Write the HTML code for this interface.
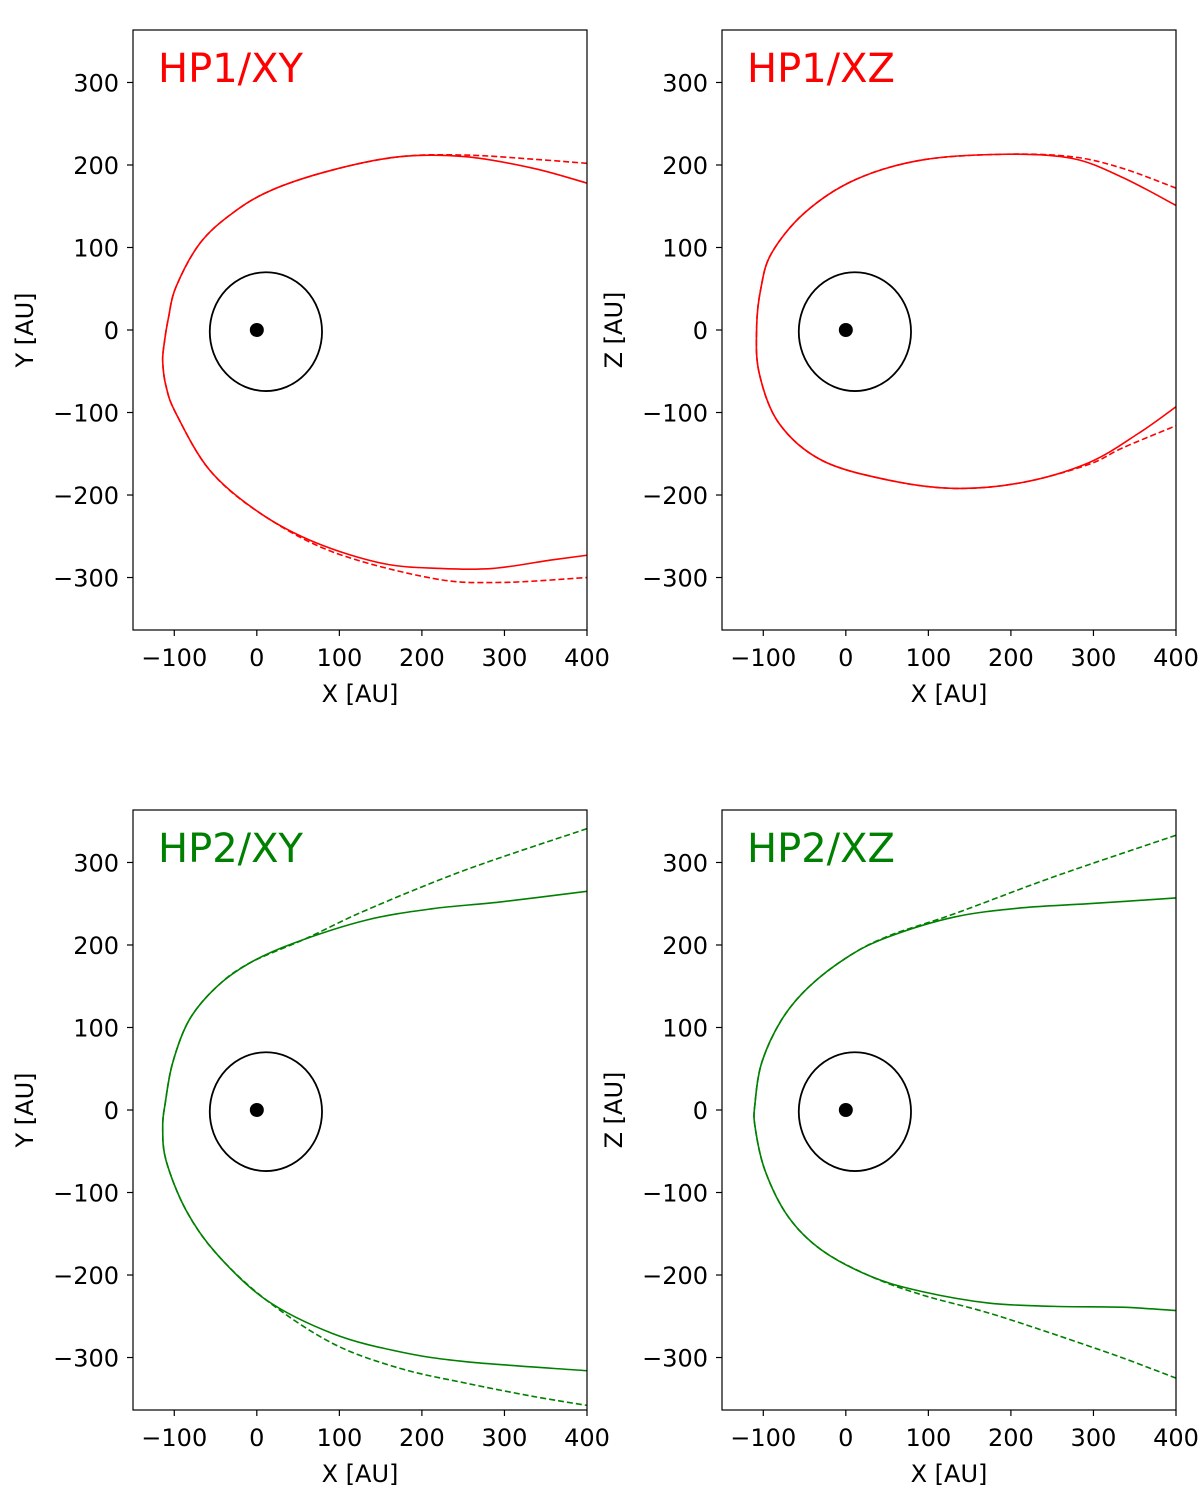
<!DOCTYPE html>
<html><head><meta charset="utf-8"><style>
body{margin:0;background:#fff;}
svg text{font-family:"DejaVu Sans","Liberation Sans",sans-serif;}
</style></head>
<body>
<svg id="fig" width="1200" height="1500" xmlns="http://www.w3.org/2000/svg"></svg>
<script>
const xTicks=[-100,0,100,200,300,400];
const yTicks=[300,200,100,0,-100,-200,-300];
const xDomain=[-150,400];
const yDomain=[-363.6,363.6];
const titles=["HP1/XY","HP1/XZ","HP2/XY","HP2/XZ"];
const yLabels=["Y [AU]","Z [AU]","Y [AU]","Z [AU]"];
const colors=["#ff0000","#ff0000","#008000","#008000"];
const circleCenter=[11,-2];
const circleRadius=[68,72];
const sunPos=[0,0];
const hp1xySolid=[[400,178],[335,196],[253,210],[173,210],[92,194],[19,170],[-29,142],[-69,105],[-98,52],[-107,15],[-112,-15],[-114,-38],[-110,-68],[-98,-101],[-57,-170],[4,-222],[72,-258],[153,-283],[222,-289],[286,-289],[355,-279],[400,-273]];
const hp1xyDash=[[400,202],[335,207],[253,212],[173,210],[92,194],[19,170],[-29,142],[-69,105],[-98,52],[-107,15],[-112,-15],[-114,-38],[-110,-68],[-98,-101],[-57,-170],[4,-222],[92,-269],[213,-301],[294,-306],[400,-300]];
const hp1xzSolid=[[400,151],[335,185],[274,208],[193,213],[92,206],[11,182],[-50,142],[-90,93],[-103,50],[-108,4],[-105,-52],[-81,-113],[-29,-158],[52,-182],[132,-192],[213,-185],[294,-161],[355,-125],[400,-93]];
const hp1xzDash=[[400,172],[335,196],[274,210],[193,213],[92,206],[11,182],[-50,142],[-90,93],[-103,50],[-108,4],[-105,-52],[-81,-113],[-29,-158],[52,-182],[132,-192],[213,-185],[294,-163],[335,-143],[400,-116]];
const hp2xySolid=[[400,265],[294,252],[213,244],[132,230],[44,202],[-9,178],[-49,149],[-82,109],[-102,57],[-111,8],[-114,-20],[-110,-61],[-86,-121],[-49,-174],[11,-230],[92,-271],[173,-293],[253,-305],[400,-316]];
const hp2xyDash=[[400,341],[253,291],[132,242],[60,208],[-9,178],[-49,149],[-82,109],[-102,57],[-111,8],[-114,-20],[-110,-61],[-86,-121],[-49,-174],[11,-230],[92,-283],[173,-313],[253,-331],[334,-347],[400,-358]];
const hp2xzSolid=[[400,257],[294,250],[213,245],[132,234],[52,210],[3,186],[-45,149],[-78,109],[-102,57],[-110,8],[-110,-20],[-98,-73],[-70,-129],[-29,-170],[31,-202],[92,-220],[173,-234],[253,-238],[334,-239],[400,-243]];
const hp2xzDash=[[400,333],[253,283],[132,238],[52,211],[3,186],[-45,149],[-78,109],[-102,57],[-110,8],[-110,-20],[-98,-73],[-70,-129],[-29,-170],[31,-202],[92,-224],[173,-246],[253,-272],[334,-300],[400,-325]];
const solids=[hp1xySolid,hp1xzSolid,hp2xySolid,hp2xzSolid];
const dashes=[hp1xyDash,hp1xzDash,hp2xyDash,hp2xzDash];

const NS="http://www.w3.org/2000/svg";
const fig=document.getElementById('fig');
const boxes=[[133,30],[722,30],[133,810],[722,810]];
const W=454,H=600;
function mk(tag,attrs,parent){const e=document.createElementNS(NS,tag);for(const k in attrs)e.setAttribute(k,attrs[k]);parent.appendChild(e);return e;}
function pathD(pts,sx,sy){
  const p=pts.map(q=>[sx(q[0]),sy(q[1])]);
  let d="M"+p[0][0]+","+p[0][1];
  for(let i=0;i<p.length-1;i++){
    const p0=p[i-1]||p[i],p1=p[i],p2=p[i+1],p3=p[i+2]||p2;
    const c1=[p1[0]+(p2[0]-p0[0])/6,p1[1]+(p2[1]-p0[1])/6];
    const c2=[p2[0]-(p3[0]-p1[0])/6,p2[1]-(p3[1]-p1[1])/6];
    d+=" C"+c1+" "+c2+" "+p2;
  }
  return d;
}
boxes.forEach((b,i)=>{
  const [bx,by]=b;
  const sx=v=>bx+(v-xDomain[0])/(xDomain[1]-xDomain[0])*W;
  const sy=v=>by+H-(v-yDomain[0])/(yDomain[1]-yDomain[0])*H;
  const g=mk('g',{},fig);
  
  
  const clipId='clip'+i;
  const cp=mk('clipPath',{id:clipId},g);mk('rect',{x:bx,y:by,width:W,height:H},cp);
  const plot=mk('g',{'clip-path':'url(#'+clipId+')'},g);
  const dsh=mk('path',{d:pathD(dashes[i],sx,sy),fill:'none',stroke:colors[i],'stroke-width':1.6,'stroke-dasharray':'6,3'},plot);
  
  
  const sol=mk('path',{d:pathD(solids[i],sx,sy),fill:'none',stroke:colors[i],'stroke-width':1.6},plot);
  
  
  const c=mk('ellipse',{cx:sx(circleCenter[0]),cy:sy(circleCenter[1]),rx:circleRadius[0]*W/(xDomain[1]-xDomain[0]),ry:circleRadius[1]*H/(yDomain[1]-yDomain[0]),fill:'none',stroke:'#000','stroke-width':1.8},plot);
  
  
  const s=mk('circle',{cx:sx(sunPos[0]),cy:sy(sunPos[1]),r:7,fill:'#000'},plot);
  
  
  const fr=mk('rect',{x:bx,y:by,width:W,height:H,fill:'none',stroke:'#000','stroke-width':1.2},g);
  
  
  xTicks.forEach(t=>{
    mk('line',{x1:sx(t),x2:sx(t),y1:by+H,y2:by+H+6,stroke:'#000','stroke-width':1.2},g);
    const tx=mk('text',{x:sx(t),y:by+H+36,'font-size':24,'text-anchor':'middle'},g);
    tx.textContent=t<0?'\u2212'+(-t):String(t);
    
    
  });
  yTicks.forEach(t=>{
    mk('line',{x1:bx-6,x2:bx,y1:sy(t),y2:sy(t),stroke:'#000','stroke-width':1.2},g);
    const tx=mk('text',{x:bx-14,y:sy(t)+9,'font-size':24,'text-anchor':'end'},g);
    tx.textContent=t<0?'\u2212'+(-t):String(t);
    
    
  });
  const xl=mk('text',{x:bx+W/2,y:by+H+72,'font-size':24,'text-anchor':'middle'},g);
  xl.textContent='X [AU]';
  
  
  const yx=bx-100,yy=by+H/2;
  const yl=mk('text',{x:yx,y:yy,'font-size':24,'text-anchor':'middle',transform:'rotate(-90 '+yx+' '+yy+')'},g);
  yl.textContent=yLabels[i];
  
  
  const tt=mk('text',{x:bx+25,y:by+52,'font-size':40,fill:colors[i]},g);
  tt.textContent=titles[i];
  
  
});
</script>
</body></html>
